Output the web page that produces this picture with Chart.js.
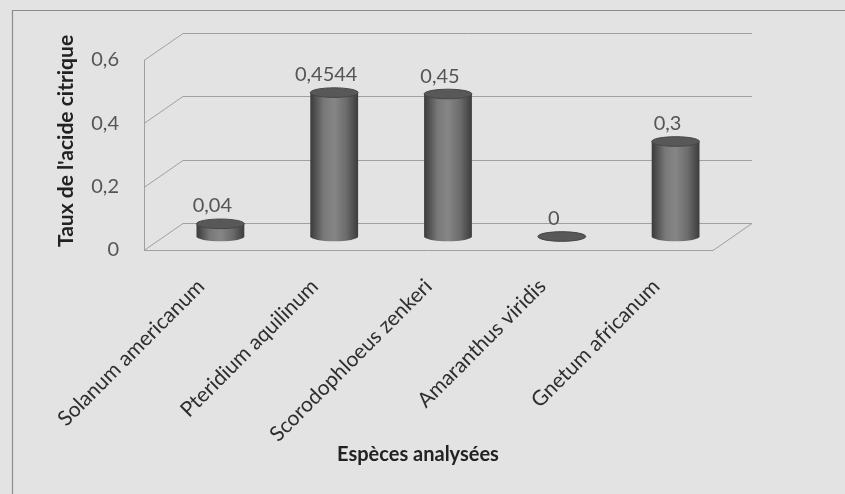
<!DOCTYPE html>
<html>
<head>
<meta charset="utf-8">
<script src="https://cdn.jsdelivr.net/npm/chart.js@4.4.1/dist/chart.umd.min.js"></script>
<style>
  html, body { margin: 0; padding: 0; background: #e4e4e4; }
  #wrap { position: relative; width: 845px; height: 494px; }
</style>
</head>
<body>
<div id="wrap"><canvas id="c" width="845" height="494"></canvas></div>
<script>
// Citric acid content per analysed species
const categories = [
  'Solanum americanum',
  'Pteridium aquilinum',
  'Scorodophloeus zenkeri',
  'Amaranthus viridis',
  'Gnetum africanum'
];
const citricValues = [0.04, 0.4544, 0.45, 0, 0.3];
const yTicks = [0, 0.2, 0.4, 0.6];
const yTitle = "Taux de l'acide citrique";
const xTitle = 'Espèces analysées';

// 3D box depth (back wall offset from the front plane) and cylinder look
const DEPTH_X = 39;
const DEPTH_Y = -27;
const BAR_FRACTION = 0.42;
const CAP_RY = 4.8;
const FONT = 'Lato, "Open Sans", sans-serif';

const fmt = v => String(v).replace('.', ',');

function barWidth(chart) {
  const a = chart.chartArea;
  return (a.right - a.left) / categories.length * BAR_FRACTION;
}

function cylinderGradient(ctx, cx, w) {
  const g = ctx.createLinearGradient(cx - w / 2, 0, cx + w / 2, 0);
  g.addColorStop(0, '#3a3a3a');
  g.addColorStop(0.28, '#787878');
  g.addColorStop(0.5, '#868686');
  g.addColorStop(0.75, '#6c6c6c');
  g.addColorStop(1, '#3c3c3c');
  return g;
}

const frame3d = {
  id: 'frame3d',
  beforeDraw(chart) {
    const ctx = chart.ctx;
    ctx.save();
    ctx.fillStyle = '#e3e3e3';
    ctx.fillRect(0, 0, chart.width, chart.height);
    // outer frame
    ctx.strokeStyle = '#8c8c8c';
    ctx.lineWidth = 1.2;
    ctx.beginPath();
    ctx.moveTo(12.5, chart.height);
    ctx.lineTo(12.5, 10.5);
    ctx.lineTo(chart.width, 10.5);
    ctx.stroke();
    ctx.restore();
  },
  beforeDatasetsDraw(chart) {
    const ctx = chart.ctx;
    const a = chart.chartArea;
    const ys = chart.scales.y;
    const y0 = ys.getPixelForValue(0);
    const yTop = ys.getPixelForValue(yTicks[yTicks.length - 1]);
    ctx.save();
    ctx.strokeStyle = '#a0a0a0';
    ctx.lineWidth = 1;
    // side wall + back wall gridlines
    yTicks.forEach(v => {
      const y = Math.round(ys.getPixelForValue(v)) + 0.5;
      ctx.beginPath();
      ctx.moveTo(a.left, y);
      ctx.lineTo(a.left + DEPTH_X, y + DEPTH_Y);
      ctx.lineTo(a.right + DEPTH_X, y + DEPTH_Y);
      ctx.stroke();
    });
    // front edge of the side wall
    ctx.beginPath();
    ctx.moveTo(a.left + 0.5, yTop);
    ctx.lineTo(a.left + 0.5, y0);
    ctx.stroke();
    // floor front and right edges
    ctx.beginPath();
    ctx.moveTo(a.left, Math.round(y0) + 0.5);
    ctx.lineTo(a.right, Math.round(y0) + 0.5);
    ctx.lineTo(a.right + DEPTH_X, Math.round(y0) + 0.5 + DEPTH_Y);
    ctx.stroke();
    ctx.restore();

    // cylinders stand in the middle of the depth
    ctx.save();
    ctx.translate(DEPTH_X / 2, DEPTH_Y / 2);
    const meta = chart.getDatasetMeta(0);
    meta.data.forEach(bar => {
      const { x, base, width } = bar.getProps(['x', 'base', 'width'], true);
      ctx.beginPath();
      ctx.ellipse(x, base, width / 2, CAP_RY, 0, 0, Math.PI * 2);
      ctx.fillStyle = cylinderGradient(ctx, x, width);
      ctx.fill();
    });
  },
  afterDatasetsDraw(chart) {
    const ctx = chart.ctx;
    const meta = chart.getDatasetMeta(0);
    meta.data.forEach((bar, i) => {
      const { x, y, width } = bar.getProps(['x', 'y', 'width'], true);
      // top cap
      ctx.beginPath();
      ctx.ellipse(x, y, width / 2, CAP_RY, 0, 0, Math.PI * 2);
      ctx.fillStyle = '#585858';
      ctx.fill();
      ctx.strokeStyle = '#464646';
      ctx.lineWidth = 1;
      ctx.stroke();
      // value label
      ctx.fillStyle = '#555555';
      ctx.font = '20px ' + FONT;
      ctx.textAlign = 'center';
      ctx.textBaseline = 'middle';
      ctx.fillText(fmt(citricValues[i]), x - 8, y - CAP_RY - 13);
    });
    ctx.restore();
  },
  afterDraw(chart) {
    const ctx = chart.ctx;
    ctx.save();
    ctx.fillStyle = '#222222';
    ctx.font = 'bold 21px ' + FONT;
    ctx.textAlign = 'center';
    ctx.textBaseline = 'middle';
    ctx.translate(66, 141);
    ctx.rotate(-Math.PI / 2);
    ctx.fillText(yTitle, 0, 0);
    ctx.restore();
    ctx.save();
    ctx.fillStyle = '#222222';
    ctx.font = 'bold 20px ' + FONT;
    ctx.textAlign = 'center';
    ctx.textBaseline = 'middle';
    ctx.fillText(xTitle, 418, 455);
    ctx.restore();
  }
};

new Chart(document.getElementById('c'), {
  type: 'bar',
  data: {
    labels: categories,
    datasets: [{
      data: citricValues,
      backgroundColor: (c) => {
        const chart = c.chart;
        if (!chart.chartArea || c.dataIndex === undefined) return '#6a6a6a';
        const cx = chart.scales.x.getPixelForValue(c.dataIndex);
        return cylinderGradient(chart.ctx, cx, barWidth(chart));
      },
      borderWidth: 0,
      categoryPercentage: 1,
      barPercentage: BAR_FRACTION,
      clip: false
    }]
  },
  options: {
    responsive: false,
    animation: false,
    devicePixelRatio: 1,
    layout: { padding: { top: 60, right: 132, bottom: 0, left: 0 } },
    plugins: { legend: { display: false }, tooltip: { enabled: false } },
    scales: {
      x: {
        grid: { display: false, drawTicks: false },
        border: { display: false },
        ticks: {
          minRotation: 45, maxRotation: 45, autoSkip: false,
          padding: 24,
          color: '#2e2e2e',
          font: { family: FONT, size: 21 }
        },
        afterFit: s => { s.height = 244; }
      },
      y: {
        min: 0, max: 0.6,
        grid: { display: false, drawTicks: false },
        border: { display: false },
        afterBuildTicks: s => { s.ticks = yTicks.map(v => ({ value: v })); },
        ticks: {
          padding: 25,
          color: '#555555',
          font: { family: FONT, size: 20 },
          callback: v => fmt(v)
        },
        afterFit: s => { s.width = 144; }
      }
    }
  },
  plugins: [frame3d]
});
</script>
</body>
</html>
